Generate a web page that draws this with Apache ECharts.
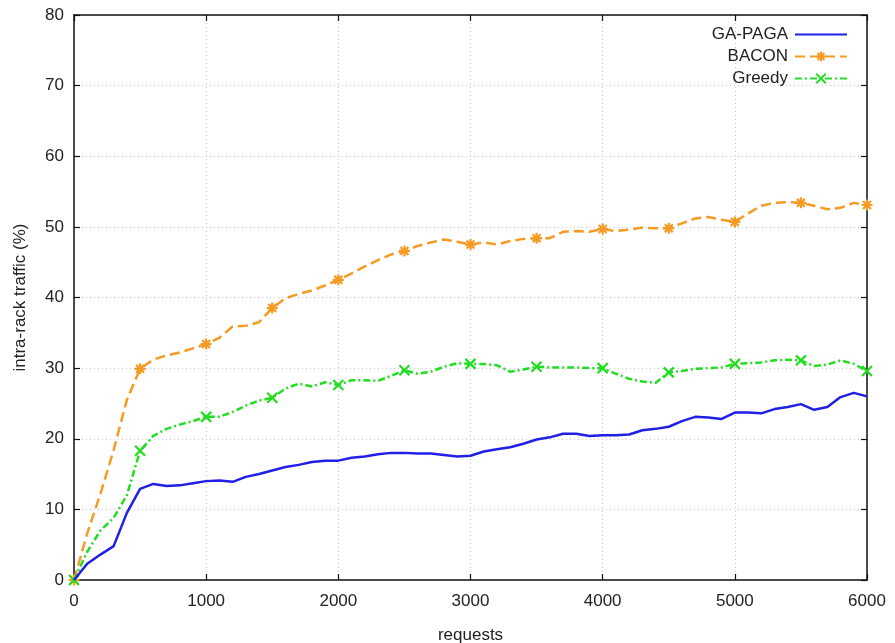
<!DOCTYPE html>
<html>
<head>
<meta charset="utf-8">
<script src="https://cdn.jsdelivr.net/npm/echarts@6/dist/echarts.min.js"></script>
<style>html,body{margin:0;padding:0;background:#fff}#c{width:895px;height:643px}</style>
</head>
<body>
<div id="c"></div>
<script>
// requests (x): 0..6000 step 100
var requests = [];
for (var r = 0; r <= 6000; r += 100) requests.push(r);

var gaPaga = [0,2.3,3.6,4.8,9.5,12.9,13.6,13.3,13.4,13.7,14.0,14.1,13.9,14.6,15.0,15.5,16.0,16.3,16.7,16.9,16.9,17.3,17.5,17.8,18.0,18.0,17.9,17.9,17.7,17.5,17.6,18.2,18.5,18.8,19.3,19.9,20.2,20.7,20.7,20.4,20.5,20.5,20.6,21.2,21.4,21.7,22.5,23.1,23.0,22.8,23.7,23.7,23.6,24.2,24.5,24.9,24.1,24.5,25.9,26.5,26.0];
var bacon = [0,6.6,12.2,18.4,25.5,29.9,31.2,31.8,32.2,32.8,33.4,34.3,35.9,36.0,36.5,38.5,39.9,40.5,41.0,41.7,42.5,43.4,44.4,45.3,46.1,46.6,47.3,47.8,48.2,47.9,47.5,47.8,47.5,48.0,48.3,48.4,48.4,49.3,49.4,49.3,49.7,49.4,49.6,49.9,49.8,49.8,50.5,51.2,51.4,51.0,50.7,51.9,53.0,53.4,53.5,53.4,53.0,52.5,52.7,53.4,53.1];
var greedy = [0,4.0,7.0,8.8,12.0,18.3,20.4,21.4,22.0,22.5,23.1,23.1,23.8,24.7,25.4,25.8,27.1,27.8,27.4,28.0,27.6,28.3,28.3,28.2,28.9,29.7,29.2,29.5,30.2,30.7,30.6,30.6,30.4,29.5,29.8,30.2,30.1,30.1,30.1,30.0,30.0,29.2,28.5,28.1,27.9,29.4,29.6,29.9,30.0,30.1,30.6,30.7,30.8,31.1,31.2,31.1,30.3,30.5,31.1,30.6,29.6];

var xTicks = [0,1000,2000,3000,4000,5000,6000];
var yTicks = [0,10,20,30,40,50,60,70,80];
var markerEvery = 500;

var COL_BLUE = '#1f1fe6', COL_ORANGE = '#f59a23', COL_GREEN = '#22dd22';
var STAR = 'path://M0,-5L0,5M-5,0L5,0M-3.6,-3.6L3.6,3.6M-3.6,3.6L3.6,-3.6';
var CROSS = 'path://M-5,-5L5,5M-5,5L5,-5';

function build(vals, withMarkers) {
  return requests.map(function (x, i) {
    var item = { value: [x, vals[i]] };
    if (withMarkers && x % markerEvery !== 0) item.symbolSize = 0;
    return item;
  });
}

var font = '"Liberation Sans", Arial, sans-serif';
var FS = 17;
var chart = echarts.init(document.getElementById('c'), null, { renderer: 'canvas' });

var axisCommon = {
  type: 'value',
  axisLine: { show: true, onZero: false, lineStyle: { color: '#111', width: 1.5 } },
  axisTick: { show: true, inside: true, length: 6, lineStyle: { color: '#111', width: 1.2 } },
  splitLine: { show: false }
};

chart.setOption({
  animation: false,
  backgroundColor: '#fff',
  textStyle: { fontFamily: font },
  grid: { left: 74, right: 28, top: 15, bottom: 63, show: false, containLabel: false, outerBoundsMode: 'none' },
  legend: {
    orient: 'vertical', right: 47, top: 26, align: 'right', padding: 0,
    itemWidth: 52, itemHeight: 12, itemGap: 5,
    textStyle: { fontSize: FS, color: '#222', fontFamily: font, padding: [0, 2, 0, 0] },
    data: [
      { name: 'GA-PAGA', itemStyle: { color: 'rgba(0,0,0,0)', borderWidth: 0, opacity: 0 } },
      { name: 'BACON' },
      { name: 'Greedy' }
    ]
  },
  xAxis: [
    Object.assign({}, axisCommon, {
      min: 0, max: 6000, interval: 1000, position: 'bottom',
      name: 'requests', nameLocation: 'middle', nameGap: 47,
      nameTextStyle: { fontSize: FS, color: '#222', fontFamily: font },
      axisLabel: { fontSize: FS, color: '#222', margin: 13, fontFamily: font,
        formatter: function (v) { return String(v); } },
      splitLine: { show: true, lineStyle: { color: '#c8c8c8', type: [1, 3], width: 1 } }
    }),
    Object.assign({}, axisCommon, {
      min: 0, max: 6000, interval: 1000, position: 'top',
      axisLabel: { show: false }
    })
  ],
  yAxis: [
    Object.assign({}, axisCommon, {
      min: 0, max: 80, interval: 10, position: 'left',
      name: 'intra-rack traffic (%)', nameLocation: 'middle', nameGap: 45,
      nameTextStyle: { fontSize: FS, color: '#222', fontFamily: font },
      axisLabel: { fontSize: FS, color: '#222', margin: 10, fontFamily: font },
      splitLine: { show: true, lineStyle: { color: '#c8c8c8', type: [1, 3], width: 1 } }
    }),
    Object.assign({}, axisCommon, {
      min: 0, max: 80, interval: 10, position: 'right',
      axisLabel: { show: false }
    })
  ],
  series: [
    {
      name: 'GA-PAGA', type: 'line', showSymbol: false, symbol: 'none',
      data: build(gaPaga, false), smooth: false,
      lineStyle: { color: COL_BLUE, width: 2.5 },
      itemStyle: { color: COL_BLUE }, z: 3
    },
    {
      name: 'BACON', type: 'line', symbol: STAR, symbolSize: 11, showSymbol: true,
      data: build(bacon, true),
      lineStyle: { color: COL_ORANGE, width: 2.5, type: [10, 5] },
      itemStyle: { color: 'rgba(0,0,0,0)', borderColor: COL_ORANGE, borderWidth: 2.2 }, z: 2
    },
    {
      name: 'Greedy', type: 'line', symbol: CROSS, symbolSize: 10, showSymbol: true,
      data: build(greedy, true),
      lineStyle: { color: COL_GREEN, width: 2.5, type: [7, 3, 2, 3] },
      itemStyle: { color: 'rgba(0,0,0,0)', borderColor: COL_GREEN, borderWidth: 2.2 }, z: 2
    }
  ]
});
</script>
</body>
</html>
